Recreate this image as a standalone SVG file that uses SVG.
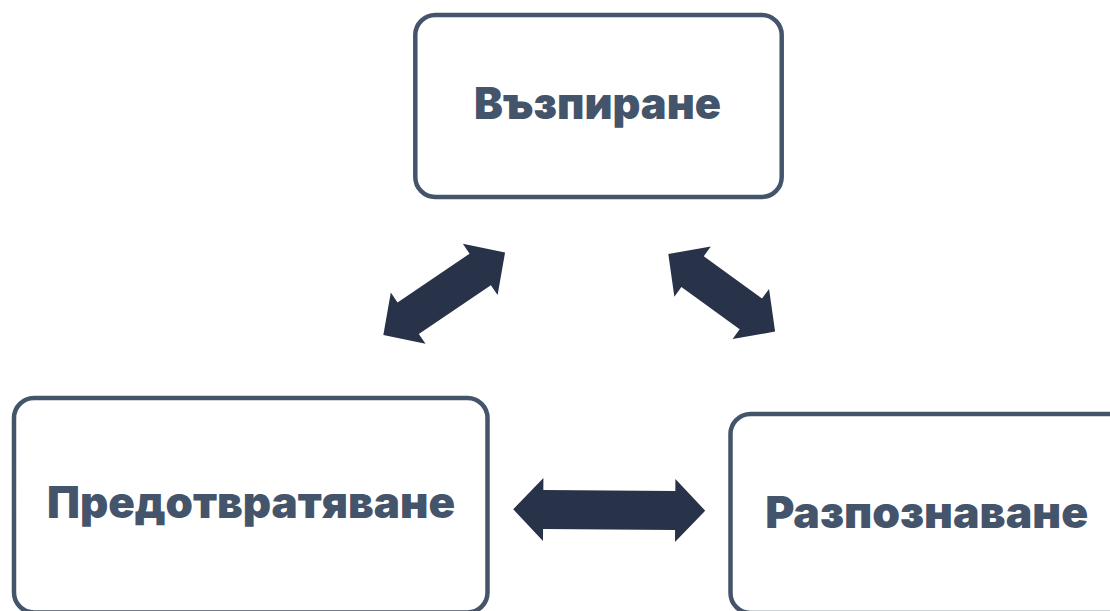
<svg xmlns="http://www.w3.org/2000/svg" width="1110" height="611" viewBox="0 0 1110 611">
<style>
.box{fill:#ffffff;stroke:#44546A;stroke-width:4.5}
.lbl{font-family:Inter,"Noto Sans","Liberation Sans",sans-serif;font-weight:900;font-size:44px;fill:#44546A;text-anchor:middle}
.arr{fill:#283349}
</style>
<defs>
<path id="a147" d="M-73.5,0 L-43.5,-31 L-43.5,-19 L43.5,-19 L43.5,-31 L73.5,0 L43.5,31 L43.5,19 L-43.5,19 L-43.5,31 Z"/>
<path id="a132" d="M-66,0 L-36,-31 L-36,-19 L36,-19 L36,-31 L66,0 L36,31 L36,19 L-36,19 L-36,31 Z"/>
<path id="a192" d="M-96,0 L-66,-31.5 L-66,-19.5 L66,-19.5 L66,-31.5 L96,0 L66,31.5 L66,19.5 L-66,19.5 L-66,31.5 Z"/>
</defs>
<rect width="1110" height="611" fill="#ffffff"/>
<g id="node-vazpirane">
<rect class="box" x="415.3" y="15" width="366.4" height="182" rx="20"/>
<text class="lbl" x="597.5" y="119.3" textLength="247" lengthAdjust="spacingAndGlyphs">Възпиране</text>
</g>
<g id="node-predotvratyavane">
<rect class="box" x="14" y="398" width="473.5" height="214.5" rx="20"/>
<text class="lbl" x="251" y="518.3" textLength="408" lengthAdjust="spacingAndGlyphs">Предотвратяване</text>
</g>
<g id="node-razpoznavane">
<rect class="box" x="730.5" y="414" width="400" height="199" rx="20"/>
<text class="lbl" x="926.7" y="528.3" textLength="323" lengthAdjust="spacingAndGlyphs">Разпознаване</text>
</g>
<g id="connectors">
<use class="arr" href="#a147" transform="translate(444.2,293.8) rotate(-34.1)"/>
<use class="arr" href="#a132" transform="translate(721.7,292.8) rotate(36)"/>
<use class="arr" href="#a192" transform="translate(609.2,510) rotate(0.4)"/>
</g>
</svg>
